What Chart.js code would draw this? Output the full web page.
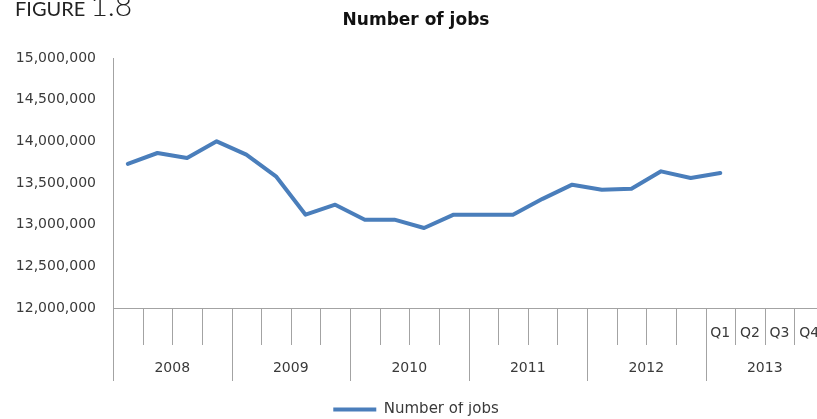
<!DOCTYPE html>
<html>
<head>
<meta charset="utf-8">
<script src="https://cdn.jsdelivr.net/npm/chart.js@4.4.0/dist/chart.umd.min.js"></script>
<style>
  body { margin: 0; background: #fff; }
  #wrap { position: relative; width: 817px; height: 419px; overflow: hidden; }
  canvas { position: absolute; left: 0; top: 0; }
</style>
</head>
<body>
<div id="wrap">
  <canvas id="grafico" width="850" height="419"></canvas>
</div>
<script>
const years = ['2008', '2009', '2010', '2011', '2012', '2013'];
const quarters = ['Q1', 'Q2', 'Q3', 'Q4'];
const labelledYear = '2013';   // only this year shows its quarter names

// quarterly totals, 2008 Q1 .. 2013 Q1
const jobs = [
  13730000, 13860000, 13800000, 14000000,
  13840000, 13580000, 13120000, 13240000,
  13060000, 13060000, 12960000, 13120000,
  13120000, 13120000, 13310000, 13480000,
  13420000, 13430000, 13640000, 13560000,
  13620000
];

const yTicks = { min: 12000000, max: 15000000, step: 500000 };

const labels = [];
years.forEach(y => quarters.forEach(q => labels.push(y + ' ' + q)));

const lineGrey = '#a3a3a3';
const textGrey = '#3a3a3a';
const font = '"DejaVu Sans", sans-serif';

// two-level category axis under the plot: quarter ticks, year separators, labels
const yearAxis = {
  id: 'yearAxis',
  afterDraw(chart) {
    const {ctx, chartArea, scales: {x}} = chart;
    const w = x.getPixelForValue(1) - x.getPixelForValue(0);
    const left = x.getPixelForValue(0) - w / 2;
    const top = chartArea.bottom;
    ctx.save();
    ctx.strokeStyle = lineGrey;
    ctx.lineWidth = 1;
    for (let k = 0; k <= labels.length; k++) {
      const px = Math.round(left + k * w) + 0.5;
      const len = k % quarters.length === 0 ? 73 : 37;
      ctx.beginPath();
      ctx.moveTo(px, top);
      ctx.lineTo(px, top + len);
      ctx.stroke();
    }
    ctx.fillStyle = textGrey;
    ctx.font = '14px ' + font;
    ctx.textAlign = 'center';
    ctx.textBaseline = 'middle';
    years.forEach((yr, i) => {
      const start = left + i * quarters.length * w;
      ctx.fillText(yr, start + quarters.length * w / 2, top + 60);
      if (yr === labelledYear) {
        quarters.forEach((q, j) => ctx.fillText(q, start + (j + 0.5) * w, top + 25));
      }
    });
    ctx.restore();
  }
};

// figure number in the top-left corner
const figureLabel = {
  id: 'figureLabel',
  afterDraw(chart) {
    const {ctx} = chart;
    ctx.save();
    ctx.fillStyle = '#222';
    ctx.textBaseline = 'alphabetic';
    ctx.textAlign = 'left';
    ctx.font = '20px Lato, sans-serif';
    ctx.fillText('FIGURE', 15, 16);
    const w = ctx.measureText('FIGURE ').width;
    ctx.font = '300 30px Lato, sans-serif';
    ctx.fillText('1.8', 15 + w, 16);
    ctx.restore();
  }
};

new Chart(document.getElementById('grafico'), {
  type: 'line',
  data: {
    labels,
    datasets: [{
      label: 'Number of jobs',
      data: jobs,
      borderColor: '#4a7ebb',
      backgroundColor: '#4a7ebb',
      borderWidth: 4,
      borderCapStyle: 'round',
      borderJoinStyle: 'round',
      pointRadius: 0,
      tension: 0
    }]
  },
  options: {
    responsive: false,
    animation: false,
    layout: { padding: { left: 8, right: 26, top: 0, bottom: -8 } },
    plugins: {
      tooltip: { enabled: false },
      title: {
        display: true,
        text: 'Number of jobs',
        color: '#111',
        font: { family: font, size: 17, weight: 'bold' },
        padding: { top: 10, bottom: 27.6 }
      },
      legend: {
        position: 'bottom',
        labels: {
          usePointStyle: true,
          pointStyle: 'line',
          pointStyleWidth: 43,
          color: textGrey,
          font: { family: font, size: 15 },
          padding: 0
        }
      }
    },
    scales: {
      x: {
        offset: true,
        grid: { display: false },
        ticks: { display: false },
        border: { display: true, color: lineGrey, width: 1 },
        afterFit: scale => { scale.height = 94; }
      },
      y: {
        min: yTicks.min,
        max: yTicks.max,
        grid: { display: false, drawTicks: false },
        border: { display: true, color: lineGrey, width: 1 },
        ticks: {
          stepSize: yTicks.step,
          color: textGrey,
          padding: 17,
          font: { family: font, size: 14 },
          callback: v => v.toLocaleString('en-US')
        },
        afterFit: scale => { scale.width = 105; }
      }
    }
  },
  plugins: [yearAxis, figureLabel]
});
</script>
</body>
</html>
